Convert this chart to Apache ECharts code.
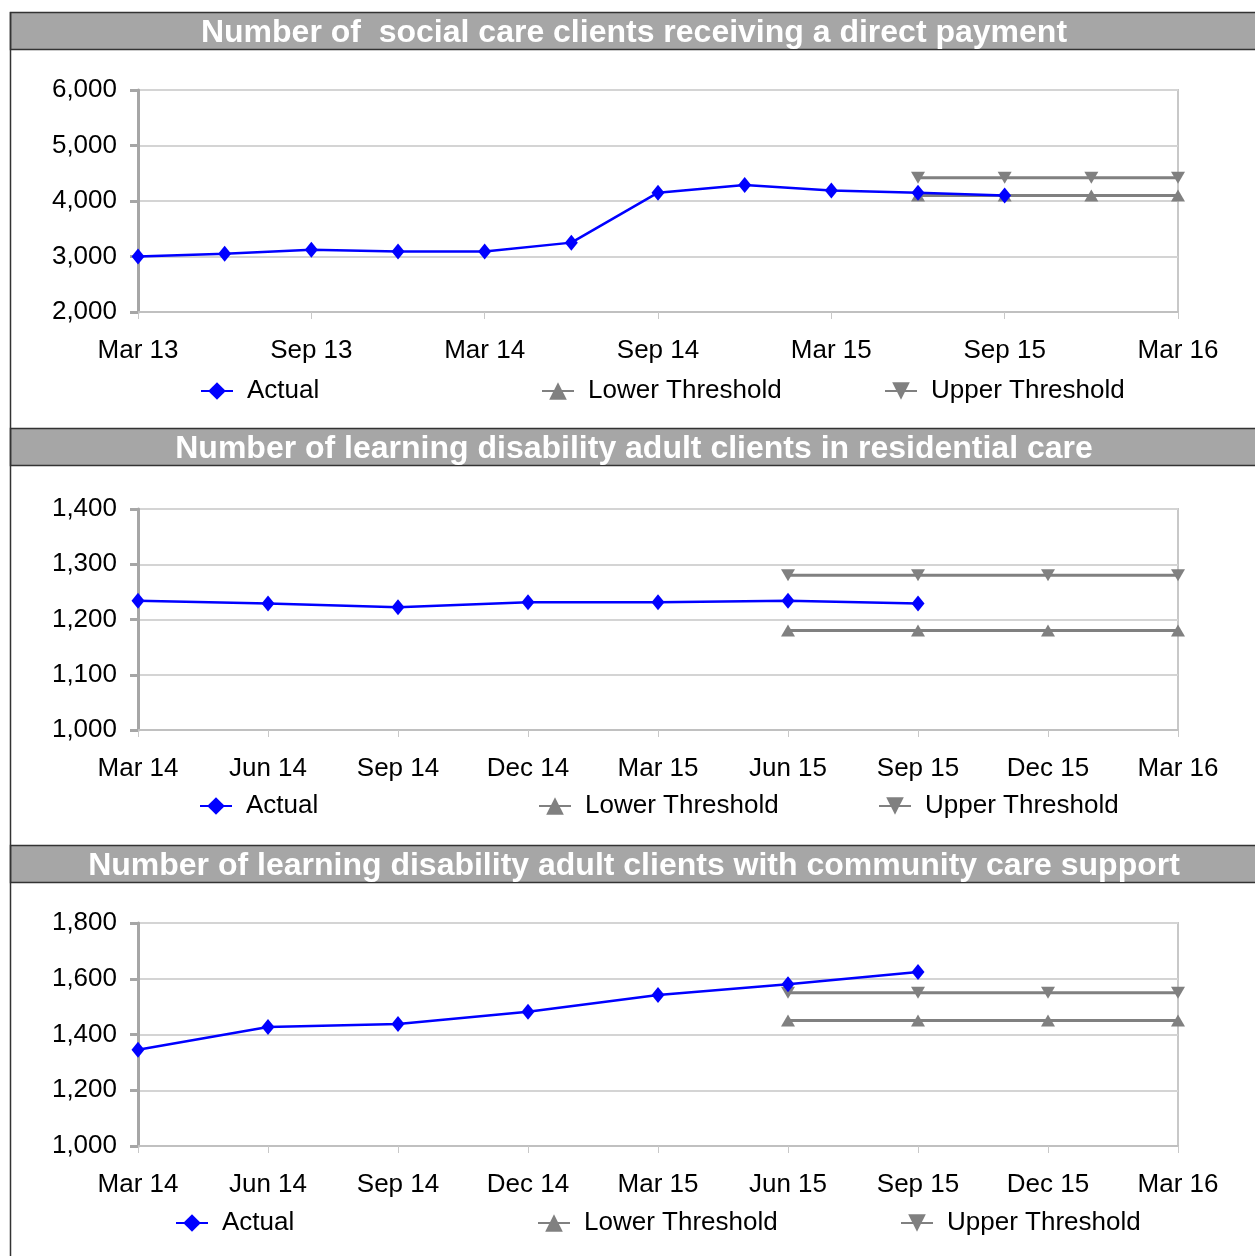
<!DOCTYPE html>
<html>
<head>
<meta charset="utf-8">
<script src="https://cdn.jsdelivr.net/npm/echarts@6/dist/echarts.min.js"></script>
<style>
  html, body { margin: 0; padding: 0; background: #fff; }
  #chart { width: 1255px; height: 1256px; }
</style>
</head>
<body>
<div id="chart"></div>
<script>
// chart titles
const titles = [
  'Number of  social care clients receiving a direct payment',
  'Number of learning disability adult clients in residential care',
  'Number of learning disability adult clients with community care support'
];

// panel 1 - direct payments (quarterly, Mar 13 - Mar 16)
const months1 = ['Mar 13', 'Jun 13', 'Sep 13', 'Dec 13', 'Mar 14', 'Jun 14', 'Sep 14', 'Dec 14', 'Mar 15', 'Jun 15', 'Sep 15', 'Dec 15', 'Mar 16'];
const actual1 = [3000, 3050, 3120, 3090, 3090, 3250, 4150, 4290, 4190, 4150, 4100];
const lower1 = [null, null, null, null, null, null, null, null, null, 4100, 4100, 4100, 4100];
const upper1 = [null, null, null, null, null, null, null, null, null, 4420, 4420, 4420, 4420];

// panel 2 - residential care (quarterly, Mar 14 - Mar 16)
const months2 = ['Mar 14', 'Jun 14', 'Sep 14', 'Dec 14', 'Mar 15', 'Jun 15', 'Sep 15', 'Dec 15', 'Mar 16'];
const actual2 = [1234, 1229, 1222, 1231, 1231, 1234, 1229];
const lower2 = [null, null, null, null, null, 1180, 1180, 1180, 1180];
const upper2 = [null, null, null, null, null, 1280, 1280, 1280, 1280];

// panel 3 - community care support
const months3 = ['Mar 14', 'Jun 14', 'Sep 14', 'Dec 14', 'Mar 15', 'Jun 15', 'Sep 15', 'Dec 15', 'Mar 16'];
const actual3 = [1345, 1427, 1438, 1482, 1542, 1580, 1624];
const lower3 = [null, null, null, null, null, 1450, 1450, 1450, 1450];
const upper3 = [null, null, null, null, null, 1550, 1550, 1550, 1550];

// y axis ranges [min, max, interval]
const yRanges = [[2000, 6000, 1000], [1000, 1400, 100], [1000, 1800, 200]];

const FONT = 'Liberation Sans, Arial, sans-serif';
const panelTops = [12, 428, 845];
const gridTops = [90, 509, 923];
const gridHeights = [222, 221, 223];
const legendY = [390, 805, 1222];
const legendX = [[200, 541, 884], [199, 538, 878], [175, 537, 900]];
const monthSets = [months1, months2, months3];
const dataSets = [[actual1, lower1, upper1], [actual2, lower2, upper2], [actual3, lower3, upper3]];
const names = ['Actual', 'Lower Threshold', 'Upper Threshold'];

const fmt = v => v.toLocaleString('en-US');

const option = {
  animation: false,
  backgroundColor: '#fff',
  title: titles.map((t, i) => ({
    text: t,
    left: 634,
    top: panelTops[i] + 3,
    textAlign: 'center',
    padding: 0,
    textStyle: { color: '#fff', fontFamily: FONT, fontWeight: 'bold', fontSize: 32, lineHeight: 36 }
  })),
  legend: [],
  grid: [],
  xAxis: [],
  yAxis: [],
  series: [],
  graphic: []
};

for (let i = 0; i < 3; i++) {
  // title bar
  option.graphic.push({
    type: 'rect', z: -1,
    shape: { x: 10.5, y: panelTops[i] + 0.5, width: 1250, height: 37 },
    style: { fill: '#a6a6a6', stroke: '#333', lineWidth: 1.5 }
  });

  option.grid.push({
    left: 138, width: 1040, top: gridTops[i], height: gridHeights[i],
    show: true, borderColor: '#c8c8c8', borderWidth: 2, backgroundColor: 'transparent'
  });

  option.xAxis.push({
    type: 'category', gridIndex: i, data: monthSets[i], boundaryGap: false,
    axisLine: { lineStyle: { color: '#c0c0c0', width: 2 } },
    axisTick: { show: true, length: 7, interval: i === 0 ? 1 : 0, lineStyle: { color: '#c8c8c8', width: 1 } },
    axisLabel: { interval: i === 0 ? 1 : 0, margin: 26, color: '#000', fontFamily: FONT, fontSize: 26 },
    splitLine: { show: false }
  });

  option.yAxis.push({
    type: 'value', gridIndex: i,
    min: yRanges[i][0], max: yRanges[i][1], interval: yRanges[i][2],
    axisLine: { show: true, lineStyle: { color: '#a6a6a6', width: 3 } },
    axisTick: { show: true, length: 8, lineStyle: { color: '#a6a6a6', width: 3 } },
    axisLabel: { margin: 21, padding: [4, 0, 0, 0], color: '#000', fontFamily: FONT, fontSize: 26, formatter: fmt },
    splitLine: { lineStyle: { color: '#d4d4d4', width: 2 } }
  });

  const [act, low, up] = dataSets[i];
  option.series.push({
    name: 'Lower Threshold', type: 'line', xAxisIndex: i, yAxisIndex: i, data: low,
    symbol: 'triangle', symbolSize: [14, 12], z: 3,
    itemStyle: { color: '#808080' }, lineStyle: { color: '#808080', width: 3 }
  });
  option.series.push({
    name: 'Upper Threshold', type: 'line', xAxisIndex: i, yAxisIndex: i, data: up,
    symbol: 'triangle', symbolRotate: 180, symbolSize: [14, 12], z: 3,
    itemStyle: { color: '#808080' }, lineStyle: { color: '#808080', width: 3 }
  });
  option.series.push({
    name: 'Actual', type: 'line', xAxisIndex: i, yAxisIndex: i, data: act,
    symbol: 'diamond', symbolSize: [13, 16], z: 4,
    itemStyle: { color: '#0000ff' }, lineStyle: { color: '#0000ff', width: 2.5 }
  });

  names.forEach((n, k) => {
    option.legend.push({
      data: [n], left: legendX[i][k], top: legendY[i] - 12, padding: 0,
      itemWidth: 32, itemHeight: 22, selectedMode: false,
      textStyle: { color: '#000', fontFamily: FONT, fontSize: 26, padding: [0, 0, 0, 9] }
    });
  });
}

// outer left border
option.graphic.push({
  type: 'line', z: -1,
  shape: { x1: 10.5, y1: 12, x2: 10.5, y2: 1256 },
  style: { stroke: '#333', lineWidth: 1.5 }
});

const myChart = echarts.init(document.getElementById('chart'));
myChart.setOption(option);
</script>
</body>
</html>
